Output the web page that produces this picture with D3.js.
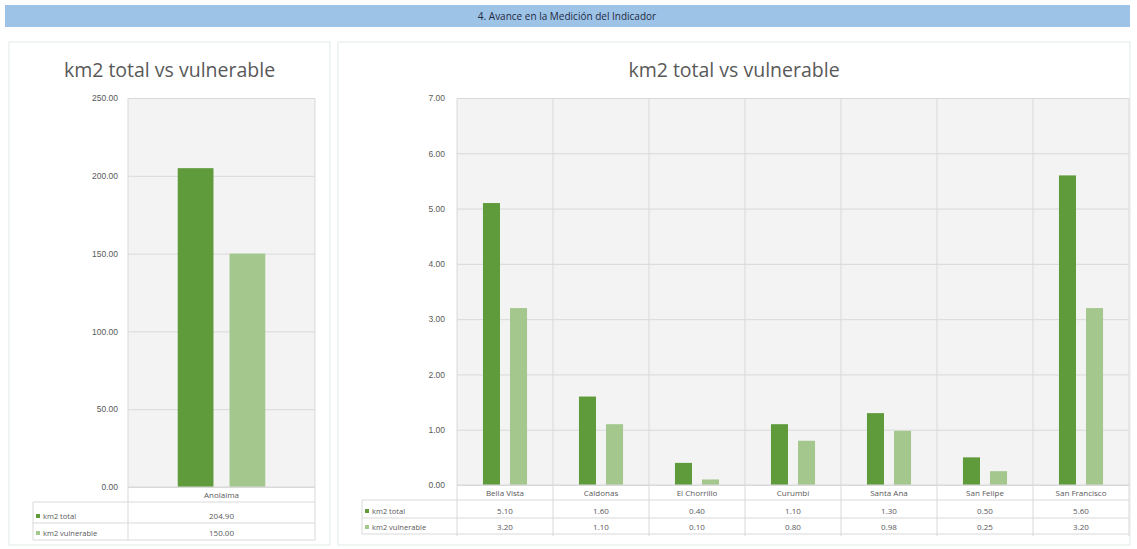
<!DOCTYPE html>
<html>
<head>
<meta charset="utf-8">
<script src="https://cdn.jsdelivr.net/npm/d3@7"></script>
<style>
  body { margin: 0; background: #fff; }
  svg { display: block; font-family: "Open Sans", "Liberation Sans", sans-serif; }
</style>
</head>
<body>
<svg width="1137" height="549"></svg>
<script>
// data
var seriesNames = ["km2 total", "km2 vulnerable"];
var leftCategories = ["Anolaima"];
var leftTotal = [204.90];
var leftVulnerable = [150.00];
var leftTicks = [0, 50, 100, 150, 200, 250];

var rightCategories = ["Bella Vista", "Caldonas", "El Chorrillo", "Curumbí", "Santa Ana", "San Felipe", "San Francisco"];
var rightTotal = [5.10, 1.60, 0.40, 1.10, 1.30, 0.50, 5.60];
var rightVulnerable = [3.20, 1.10, 0.10, 0.80, 0.98, 0.25, 3.20];
var rightTicks = [0, 1, 2, 3, 4, 5, 6, 7];

var colors = ["#5f9a3b", "#a3c78d"];
var fmt = d3.format(".2f");

var svg = d3.select("svg");

// header band
svg.append("rect")
    .attr("x", 5).attr("y", 5).attr("width", 1125).attr("height", 22)
    .attr("fill", "#9dc3e6");
svg.append("text")
    .attr("x", 567).attr("y", 20)
    .attr("text-anchor", "middle")
    .attr("font-size", 10)
    .attr("fill", "#1f2a44")
    .text("4. Avance en la Medición del Indicador");

function drawPanel(opt) {
    var g = svg.append("g");

    // panel border
    g.append("rect")
        .attr("x", opt.box[0]).attr("y", opt.box[1])
        .attr("width", opt.box[2]).attr("height", opt.box[3])
        .attr("fill", "#fff").attr("stroke", "#e3ece3");

    g.append("text")
        .attr("x", opt.box[0] + opt.box[2] / 2).attr("y", 77)
        .attr("text-anchor", "middle")
        .attr("font-size", 19.5)
        .attr("fill", "#595959")
        .text("km2 total vs vulnerable");

    var x = d3.scaleBand()
        .domain(opt.categories)
        .range([opt.left, opt.right]);
    var y = d3.scaleLinear()
        .domain([0, d3.max(opt.ticks)])
        .range([opt.bottom, opt.top]);
    var xs = d3.scaleBand()
        .domain(seriesNames)
        .range([0, x.bandwidth()])
        .paddingInner(opt.inner)
        .paddingOuter(opt.outer);

    // plot area
    g.append("rect")
        .attr("x", opt.left).attr("y", opt.top)
        .attr("width", opt.right - opt.left).attr("height", opt.bottom - opt.top)
        .attr("fill", "#f3f3f3");

    // horizontal gridlines + tick labels
    var yAxis = g.append("g")
        .attr("transform", "translate(" + opt.left + ",0)")
        .call(d3.axisLeft(y).tickValues(opt.ticks).tickFormat(fmt)
            .tickSize(-(opt.right - opt.left)).tickPadding(opt.pad));
    yAxis.select(".domain").remove();
    yAxis.selectAll("line").attr("stroke", "#d9d9d9");
    yAxis.selectAll("text").attr("font-size", 8.5).attr("fill", "#595959");

    // vertical separators between categories
    g.selectAll(".vsep")
        .data(opt.categories)
        .enter().append("line")
        .attr("x1", function(d) { return x(d) + x.bandwidth(); })
        .attr("x2", function(d) { return x(d) + x.bandwidth(); })
        .attr("y1", opt.top).attr("y2", opt.tableBottom)
        .attr("stroke", "#d9d9d9");
    g.append("line")
        .attr("x1", opt.left).attr("x2", opt.left)
        .attr("y1", opt.top).attr("y2", opt.tableBottom)
        .attr("stroke", "#d9d9d9");

    // bars
    var series = [opt.total, opt.vulnerable];
    series.forEach(function(vals, si) {
        g.selectAll(".bar" + si)
            .data(vals)
            .enter().append("rect")
            .attr("x", function(d, i) { return x(opt.categories[i]) + xs(seriesNames[si]); })
            .attr("y", function(d) { return y(d); })
            .attr("width", xs.bandwidth())
            .attr("height", function(d) { return y(0) - y(d); })
            .attr("fill", colors[si]);
    });

    // data table
    var rows = opt.rows;
    [opt.bottom, rows[0] + 7, rows[1] + 7, rows[2] + 7].forEach(function(yy, i) {
        g.append("line")
            .attr("x1", i === 0 ? opt.left : opt.tableLeft).attr("x2", opt.right)
            .attr("y1", yy).attr("y2", yy)
            .attr("stroke", "#d9d9d9");
    });
    g.append("line")
        .attr("x1", opt.tableLeft).attr("x2", opt.tableLeft)
        .attr("y1", rows[0] + 7).attr("y2", rows[2] + 7)
        .attr("stroke", "#d9d9d9");

    g.selectAll(".cat")
        .data(opt.categories)
        .enter().append("text")
        .attr("x", function(d) { return x(d) + x.bandwidth() / 2; })
        .attr("y", rows[0] + 3)
        .attr("text-anchor", "middle")
        .attr("font-size", 8).attr("fill", "#595959")
        .text(function(d) { return d; });

    series.forEach(function(vals, si) {
        var ry = rows[si + 1] + 3;
        g.append("rect")
            .attr("x", opt.tableLeft + 3).attr("y", ry - 5)
            .attr("width", 4).attr("height", 4)
            .attr("fill", colors[si]);
        g.append("text")
            .attr("x", opt.tableLeft + 10).attr("y", ry)
            .attr("font-size", 7.5).attr("fill", "#595959")
            .text(seriesNames[si]);
        g.selectAll(".val" + si)
            .data(vals)
            .enter().append("text")
            .attr("x", function(d, i) { return x(opt.categories[i]) + x.bandwidth() / 2; })
            .attr("y", ry)
            .attr("text-anchor", "middle")
            .attr("font-size", 8).attr("fill", "#595959")
            .text(function(d) { return fmt(d); });
    });
}

drawPanel({
    box: [9, 42, 321, 503],
    categories: leftCategories,
    total: leftTotal,
    vulnerable: leftVulnerable,
    ticks: leftTicks,
    left: 128, right: 315, top: 98, bottom: 487,
    inner: 0.31, outer: 0.96, pad: 10,
    tableLeft: 33, tableBottom: 540,
    rows: [495, 516, 533]
});

drawPanel({
    box: [338, 42, 792, 503],
    categories: rightCategories,
    total: rightTotal,
    vulnerable: rightVulnerable,
    ticks: rightTicks,
    left: 457, right: 1129, top: 98, bottom: 485,
    inner: 0.37, outer: 0.96, pad: 12,
    tableLeft: 362, tableBottom: 536,
    rows: [493, 511, 527]
});
</script>
</body>
</html>
